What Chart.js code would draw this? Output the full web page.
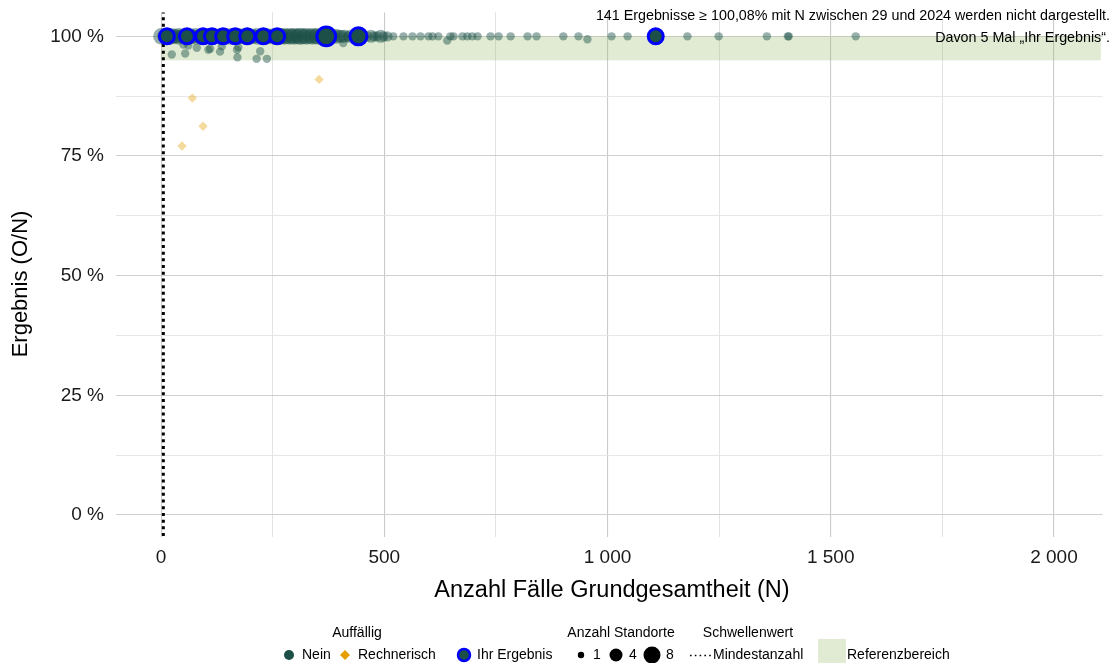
<!DOCTYPE html>
<html>
<head>
<meta charset="utf-8">
<script src="https://cdn.jsdelivr.net/npm/chart.js@4.4.1/dist/chart.umd.min.js"></script>
<style>
  html, body { margin: 0; padding: 0; background: #fff; }
  canvas { display: block; }
</style>
</head>
<body>
<canvas id="c" width="1115" height="663"></canvas>
<script>
// Standorte, nicht auffällig: Fallzahl N, Ergebnis (%) und Anzahl Standorte
const neinN = [
  1, 6, 10, 17, 22, 26, 31, 35, 40, 45, 49, 53, 59, 64, 67, 72, 77, 83, 88, 92,
  98, 101, 105, 111, 116, 121, 124, 129, 134, 140, 144, 149, 155, 159, 163, 168, 174, 179, 183, 188,
  195, 199, 205, 209, 215, 219, 224, 231, 236, 241, 246, 252, 256, 262, 267, 271, 276, 282, 288, 293,
  298, 304, 309, 315, 321, 326, 333, 339, 345, 350, 356, 362, 367, 374, 380, 386, 391, 399, 405, 411,
  418, 423, 430, 437, 441, 448, 455, 462, 470, 477, 484, 492, 499, 507, 520, 543, 563, 581, 599, 608,
  621, 648, 655, 675, 686, 697, 709, 738, 756, 783, 821, 841, 901, 935, 1009, 1045, 1179, 1249, 1357, 1404,
  1406, 1556,
  24, 50, 54, 61, 80, 106, 110, 132, 136, 170, 171, 173, 214, 222, 237, 408, 641, 955
];
const neinRate = [
  100, 100, 100, 100, 100, 100, 100, 100, 100, 100, 100, 100, 100, 100, 100, 100, 100, 100, 100, 100,
  100, 100, 100, 100, 100, 100, 100, 100, 100, 100, 100, 100, 100, 100, 100, 100, 100, 100, 100, 100,
  100, 100, 100, 100, 100, 100, 100, 100, 100, 100, 100, 100, 100, 100, 100, 100, 100, 100, 100, 100,
  100, 100, 100, 100, 100, 100, 100, 100, 100, 100, 100, 100, 100, 100, 100, 100, 100, 100, 100, 100,
  100, 100, 100, 100, 100, 100, 100, 100, 100, 100, 100, 100, 100, 100, 100, 100, 100, 100, 100, 100,
  100, 100, 100, 100, 100, 100, 100, 100, 100, 100, 100, 100, 100, 100, 100, 100, 100, 100, 100, 100,
  100, 100,
  96.2, 98.3, 96.4, 98.1, 97.6, 97.2, 97.4, 96.8, 97.9, 97.2, 95.6, 97.7, 95.3, 96.9, 95.3, 98.6, 99.1, 99.4
];
const neinSites = [
  8, 4, 6, 4, 8, 4, 6, 4, 8, 4, 6, 4, 8, 4, 6, 4, 8, 4, 6, 4,
  8, 4, 6, 4, 8, 4, 6, 4, 8, 4, 6, 4, 8, 4, 6, 4, 8, 4, 6, 4,
  8, 4, 6, 4, 8, 4, 6, 4, 8, 4, 6, 4, 8, 4, 8, 6, 8, 6, 8, 6,
  8, 6, 8, 8, 6, 8, 6, 8, 6, 8, 6, 8, 6, 8, 4, 4, 6, 4, 4, 4,
  2, 4, 2, 2, 4, 2, 2, 2, 4, 2, 2, 4, 2, 2, 1, 1, 1, 1, 1, 1,
  1, 1, 1, 1, 1, 1, 1, 1, 1, 1, 1, 1, 1, 1, 1, 1, 1, 1, 1, 1,
  1, 1,
  1, 1, 1, 1, 1, 1, 1, 1, 1, 1, 1, 1, 1, 1, 1, 1, 1, 1
];

// Rechnerisch auffällige Standorte
const rechN = [47, 70, 94, 354];
const rechRate = [77.1, 87.1, 81.2, 91.0];
const rechSites = [1, 1, 1, 1];

// Eigene Standorte ("Ihr Ergebnis")
const ihrN = [13, 58, 94, 114, 139, 166, 193, 229, 260, 370, 442, 1108];
const ihrRate = [100, 100, 100, 100, 100, 100, 100, 100, 100, 100, 100, 100];
const ihrSites = [4, 4, 4, 4, 4, 4, 4, 4, 4, 8, 6, 4];

// Schwellenwert und Referenzbereich
const mindestanzahl = 5;
const refBereich = { nMin: 0, nMax: 2105, rateMin: 95, rateMax: 100 };

// Achsen
const xTicks = [0, 250, 500, 750, 1000, 1250, 1500, 1750, 2000];
const yTicks = [0, 12.5, 25, 37.5, 50, 62.5, 75, 87.5, 100];

const annotationLines = [
  '141 Ergebnisse \u2265 100,08% mit N zwischen 29 und 2024 werden nicht dargestellt.',
  'Davon 5 Mal \u201EIhr Ergebnis\u201C.'
];

const TEAL = '#1b4f48';
const TEAL_A = 'rgba(27,79,72,0.45)';
const ORANGE = '#E69F00';
const ORANGE_A = 'rgba(230,159,0,0.38)';
const BLUE = '#0000ff';
const BAND = 'rgba(155,188,108,0.3)';
const FONT = '"Liberation Sans", Arial, Helvetica, sans-serif';

const radiusFor = s => 2.3 * Math.sqrt(s) + 1.9;
const toPoints = (xs, ys) => xs.map((x, i) => ({ x: x, y: ys[i] }));
const fmtThousands = v => {
  const s = String(Math.round(v));
  return s.length > 3 ? s.slice(0, -3) + ' ' + s.slice(-3) : s;
};

const backgroundBand = {
  id: 'backgroundBand',
  beforeDatasetsDraw(chart) {
    const { ctx, chartArea, scales: { x, y } } = chart;
    const l = Math.max(x.getPixelForValue(refBereich.nMin), chartArea.left);
    const r = Math.min(x.getPixelForValue(refBereich.nMax), chartArea.right);
    const t = y.getPixelForValue(refBereich.rateMax);
    const b = y.getPixelForValue(refBereich.rateMin);
    ctx.save();
    ctx.fillStyle = BAND;
    ctx.fillRect(l, t, r - l, b - t);
    ctx.restore();
  }
};

const overlayText = {
  id: 'overlayText',
  afterDraw(chart) {
    const { ctx } = chart;
    ctx.save();
    // Hinweistext oben rechts
    ctx.fillStyle = '#000';
    ctx.font = '14.3px ' + FONT;
    ctx.textAlign = 'right';
    ctx.textBaseline = 'middle';
    ctx.fillText(annotationLines[0], 1110, 16);
    ctx.fillText(annotationLines[1], 1110, 38);

    // Achsentitel
    ctx.fillStyle = '#000';
    ctx.font = '23.5px ' + FONT;
    ctx.textAlign = 'center';
    ctx.fillText('Anzahl Fälle Grundgesamtheit (N)', 612, 591);
    ctx.font = '22px ' + FONT;
    ctx.save();
    ctx.translate(21, 284);
    ctx.rotate(-Math.PI / 2);
    ctx.fillText('Ergebnis (O/N)', 0, 0);
    ctx.restore();

    // Legende
    const y1 = 633, y2 = 655;
    ctx.font = '14px ' + FONT;
    ctx.fillStyle = '#000';
    ctx.textAlign = 'center';
    ctx.fillText('Auffällig', 357, y1);
    ctx.fillText('Anzahl Standorte', 621, y1);
    ctx.fillText('Schwellenwert', 748, y1);
    ctx.textAlign = 'left';

    // Nein
    ctx.beginPath();
    ctx.arc(289, y2, 5, 0, Math.PI * 2);
    ctx.fillStyle = TEAL;
    ctx.fill();
    ctx.fillStyle = '#000';
    ctx.fillText('Nein', 302, y2);

    // Rechnerisch
    ctx.beginPath();
    ctx.moveTo(345, y2 - 5); ctx.lineTo(350, y2); ctx.lineTo(345, y2 + 5); ctx.lineTo(340, y2);
    ctx.closePath();
    ctx.fillStyle = ORANGE;
    ctx.fill();
    ctx.fillStyle = '#000';
    ctx.fillText('Rechnerisch', 358, y2);

    // Ihr Ergebnis
    ctx.beginPath();
    ctx.arc(464, y2, 6, 0, Math.PI * 2);
    ctx.fillStyle = TEAL;
    ctx.fill();
    ctx.lineWidth = 2.5;
    ctx.strokeStyle = BLUE;
    ctx.stroke();
    ctx.fillStyle = '#000';
    ctx.fillText('Ihr Ergebnis', 477, y2);

    // Anzahl Standorte
    const sizeKeys = [[1, 581, 593], [4, 616, 629], [8, 652, 666]];
    sizeKeys.forEach(([s, cx, tx]) => {
      ctx.beginPath();
      ctx.arc(cx, y2, s === 1 ? 3.2 : (s === 4 ? 6.5 : 8.5), 0, Math.PI * 2);
      ctx.fillStyle = '#000';
      ctx.fill();
      ctx.fillText(String(s), tx, y2);
    });

    // Mindestanzahl
    ctx.save();
    ctx.strokeStyle = '#000';
    ctx.lineWidth = 1.6;
    ctx.setLineDash([1.6, 3.2]);
    ctx.beginPath();
    ctx.moveTo(690, y2 + 0.5);
    ctx.lineTo(711, y2 + 0.5);
    ctx.stroke();
    ctx.restore();
    ctx.fillText('Mindestanzahl', 713, y2);

    // Referenzbereich
    ctx.fillStyle = BAND;
    ctx.fillRect(818, 639, 28, 24);
    ctx.fillStyle = '#000';
    ctx.fillText('Referenzbereich', 847, y2);
    ctx.restore();
  }
};

const ctx = document.getElementById('c').getContext('2d');
new Chart(ctx, {
  type: 'scatter',
  data: {
    datasets: [
      {
        label: 'Ihr Ergebnis',
        data: toPoints(ihrN, ihrRate),
        backgroundColor: TEAL,
        borderColor: BLUE,
        borderWidth: 3,
        pointRadius: ihrSites.map(s => radiusFor(s) + 1),
        pointStyle: 'circle'
      },
      {
        label: 'Rechnerisch',
        data: toPoints(rechN, rechRate),
        backgroundColor: ORANGE_A,
        borderWidth: 0,
        pointRadius: rechSites.map(s => radiusFor(s) + 0.5),
        pointStyle: 'rectRot'
      },
      {
        label: 'Nein',
        data: toPoints(neinN, neinRate),
        backgroundColor: TEAL_A,
        borderWidth: 0,
        pointRadius: neinSites.map(radiusFor),
        pointStyle: 'circle'
      },
      {
        label: 'Mindestanzahl',
        type: 'line',
        data: [{ x: mindestanzahl, y: -10 }, { x: mindestanzahl, y: 110 }],
        borderColor: '#000',
        borderWidth: 3,
        borderDash: [3, 3.7],
        pointRadius: 0,
        fill: false
      }
    ]
  },
  options: {
    responsive: false,
    animation: false,
    devicePixelRatio: 1,
    layout: { padding: { left: 0, right: 0, top: 11, bottom: 0 } },
    plugins: { legend: { display: false }, tooltip: { enabled: false } },
    scales: {
      x: {
        type: 'linear',
        min: -101,
        max: 2109,
        afterBuildTicks: s => { s.ticks = xTicks.map(v => ({ value: v })); },
        afterFit: s => { s.height = 126; s.paddingLeft = 0; s.paddingRight = 0; },
        border: { display: false },
        grid: {
          drawTicks: false,
          color: c => (c.tick && c.tick.value % 500 === 0) ? '#cbcbcb' : '#e0e0e0',
          lineWidth: c => (c.tick && c.tick.value % 500 === 0) ? 1.1 : 0.9
        },
        ticks: {
          padding: 9,
          color: '#1a1a1a',
          font: { family: FONT, size: 19 },
          maxRotation: 0,
          autoSkip: false,
          callback: v => (v % 500 === 0 ? fmtThousands(v) : '')
        }
      },
      y: {
        type: 'linear',
        min: -4.6,
        max: 105,
        afterBuildTicks: s => { s.ticks = yTicks.map(v => ({ value: v })); },
        afterFit: s => { s.width = 116; s.paddingTop = 0; s.paddingBottom = 0; },
        border: { display: false },
        grid: {
          drawTicks: false,
          color: c => (c.tick && c.tick.value % 25 === 0) ? '#cfcfcf' : '#e4e4e4',
          lineWidth: c => (c.tick && c.tick.value % 25 === 0) ? 1.1 : 0.9
        },
        ticks: {
          padding: 12,
          color: '#1a1a1a',
          font: { family: FONT, size: 19 },
          autoSkip: false,
          callback: v => (v % 25 === 0 ? v + ' %' : '')
        }
      }
    }
  },
  plugins: [backgroundBand, overlayText]
});
</script>
</body>
</html>
